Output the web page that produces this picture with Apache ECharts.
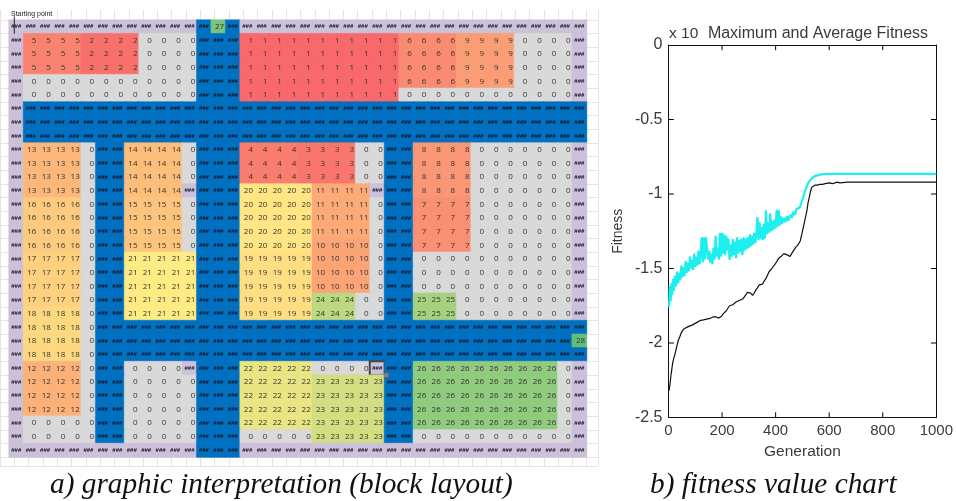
<!DOCTYPE html>
<html><head><meta charset="utf-8">
<style>html,body{margin:0;padding:0;background:#fff}#c{width:956px;height:501px}</style>
<script src="https://cdn.jsdelivr.net/npm/echarts@6/dist/echarts.min.js"></script>
</head><body><div id="c"></div>
<script>
// block layout: W = wall (purple), B = aisle (blue), numbers = block ids. Runs of [value,count].
const W = -1, B = -2;
const r00 = [[W,13],[B,1],[27,1],[B,1],[W,24]];
const r01 = [[W,1],[5,4],[2,4],[0,4],[B,3],[1,11],[6,4],[9,4],[0,4],[W,1]];
const r04 = [[W,1],[0,12],[B,3],[1,11],[6,4],[9,4],[0,4],[W,1]];
const r05 = [[W,1],[0,12],[B,3],[1,11],[0,12],[W,1]];
const r06 = [[W,1],[B,39]];
const r09 = [[W,1],[13,4],[0,1],[B,2],[14,4],[0,1],[B,3],[4,4],[3,4],[0,2],[B,2],[8,4],[0,7],[W,1]];
const r12 = [[W,1],[13,4],[0,1],[B,2],[14,4],[W,1],[B,3],[20,5],[11,4],[W,1],[B,2],[8,4],[0,7],[W,1]];
const r13 = [[W,1],[16,4],[0,1],[B,2],[15,4],[0,1],[B,3],[20,5],[11,4],[0,1],[B,2],[7,4],[0,7],[W,1]];
const r16 = [[W,1],[16,4],[0,1],[B,2],[15,4],[0,1],[B,3],[20,5],[10,4],[0,1],[B,2],[7,4],[0,7],[W,1]];
const r17 = [[W,1],[17,4],[0,1],[B,2],[21,5],[B,3],[19,5],[10,4],[0,1],[B,2],[0,11],[W,1]];
const r20 = [[W,1],[17,4],[0,1],[B,2],[21,5],[B,3],[19,5],[24,3],[0,2],[B,2],[25,3],[0,8],[W,1]];
const r21 = [[W,1],[18,4],[0,1],[B,2],[21,5],[B,3],[19,5],[24,3],[0,2],[B,2],[25,3],[0,8],[W,1]];
const r22 = [[W,1],[18,4],[0,1],[B,34]];
const r23 = [[W,1],[18,4],[0,1],[B,33],[28,1]];
const r25 = [[W,1],[12,4],[0,1],[B,2],[0,4],[W,1],[B,3],[22,5],[0,4],[W,1],[B,2],[26,10],[0,1],[W,1]];
const r26 = [[W,1],[12,4],[0,1],[B,2],[0,5],[B,3],[22,5],[23,5],[B,2],[26,10],[0,1],[W,1]];
const r29 = [[W,1],[0,5],[B,2],[0,5],[B,3],[22,5],[23,5],[B,2],[26,10],[0,1],[W,1]];
const r30 = [[W,1],[0,5],[B,2],[0,5],[B,3],[0,5],[23,5],[B,2],[0,11],[W,1]];
const r31 = [[W,13],[B,3],[W,24]];
const layoutRows = [r00,r01,r01,r01,r04,r05,r06,r06,r06,r09,r09,r09,r12,r13,r13,r13,r16,r17,r17,r17,r20,r21,r22,r23,r22,r25,r26,r26,r26,r29,r30,r31];

// Fitness chart values
const xTickValues = [200,400,600,800];
const yTickValues = [-0.5,-1,-1.5,-2];
const bestGen = [2,6,9,12,16,20,25,30,37,42,48,55,62,68,75,80,88,95,103,110,117,124,130,136,142,148,155,160,166,172,178,182,187,192,198,204,209,215,222,228,233,240,246,252,258,264,270,277,283,289,295,301,307,314,320,326,332,339,345,351,357,363,369,376,384,392,400,412,420,431,438,445,453,460,467,474,482,492,499,505,511,517,521,526,530,535,541,548,556,565,575,585,600,612,622,630,640,647,670,800,1000];
const bestFit = [-2.32,-2.27,-2.22,-2.18,-2.13,-2.1,-2.07,-2.03,-1.98,-1.96,-1.93,-1.91,-1.9,-1.895,-1.89,-1.885,-1.88,-1.87,-1.865,-1.86,-1.85,-1.855,-1.845,-1.85,-1.84,-1.84,-1.835,-1.83,-1.825,-1.82,-1.825,-1.815,-1.833,-1.825,-1.82,-1.805,-1.8,-1.785,-1.775,-1.75,-1.755,-1.743,-1.735,-1.725,-1.73,-1.715,-1.72,-1.705,-1.69,-1.675,-1.66,-1.67,-1.665,-1.68,-1.665,-1.645,-1.63,-1.61,-1.6,-1.605,-1.585,-1.57,-1.565,-1.52,-1.505,-1.485,-1.465,-1.43,-1.42,-1.40,-1.395,-1.41,-1.42,-1.40,-1.38,-1.36,-1.345,-1.315,-1.26,-1.21,-1.16,-1.11,-1.06,-1.02,-0.985,-0.955,-0.945,-0.94,-0.94,-0.935,-0.935,-0.93,-0.925,-0.93,-0.925,-0.92,-0.925,-0.92,-0.92,-0.92,-0.92];
const avgGen = [2,5,8,11,14,17,20,24,28,32,36,40,44,48,52,56,60,64,68,72,76,80,84,88,92,96,100,104,108,112,116,120,124,128,132,136,140,144,148,152,156,160,164,168,172,176,180,184,188,192,196,200,204,208,212,216,220,224,228,232,236,240,244,248,252,256,260,264,268,272,276,280,284,288,292,296,300,304,308,312,316,320,324,328,332,336,340,344,348,352,356,360,364,368,372,376,380,384,388,392,396,400,404,408,412,416,420,424,430,436,442,448,454,460,466,472,478,484,490,496,502,508,514,520,528,536,546,556,570,590,700,850,1000];
const avgFit = [-1.76,-1.62,-1.72,-1.6,-1.68,-1.57,-1.65,-1.55,-1.62,-1.52,-1.6,-1.53,-1.58,-1.48,-1.56,-1.49,-1.55,-1.45,-1.53,-1.46,-1.52,-1.42,-1.5,-1.44,-1.51,-1.4,-1.49,-1.42,-1.48,-1.38,-1.47,-1.4,-1.29,-1.46,-1.29,-1.44,-1.29,-1.29,-1.44,-1.38,-1.46,-1.4,-1.47,-1.36,-1.44,-1.28,-1.42,-1.36,-1.44,-1.26,-1.42,-1.26,-1.4,-1.27,-1.41,-1.28,-1.38,-1.3,-1.44,-1.34,-1.42,-1.3,-1.41,-1.32,-1.43,-1.29,-1.4,-1.31,-1.39,-1.3,-1.41,-1.29,-1.38,-1.3,-1.37,-1.29,-1.36,-1.27,-1.35,-1.28,-1.34,-1.26,-1.33,-1.27,-1.155,-1.31,-1.19,-1.3,-1.22,-1.31,-1.2,-1.3,-1.11,-1.27,-1.19,-1.26,-1.13,-1.25,-1.18,-1.24,-1.17,-1.23,-1.105,-1.22,-1.11,-1.21,-1.15,-1.2,-1.16,-1.19,-1.15,-1.18,-1.14,-1.16,-1.12,-1.14,-1.1,-1.11,-1.09,-1.06,-1.03,-0.99,-0.96,-0.93,-0.91,-0.895,-0.88,-0.875,-0.868,-0.865,-0.865,-0.865,-0.865];

const PURPLE='#CCC0DA', BLUE='#0070C0', GREY='#D9D9D9';
const stops=[[1,[248,105,107]],[21,[255,235,132]],[28,[99,190,123]]];
function scaleColor(v){
  for(let i=0;i<stops.length-1;i++){
    const [a,ca]=stops[i],[b,cb]=stops[i+1];
    if(v<=b){const t=(v-a)/(b-a);return 'rgb('+ca.map((c,k)=>Math.round(c+(cb[k]-c)*t)).join(',')+')';}
  }
}
function cellColor(v){return v===W?PURPLE:v===B?BLUE:v===0?GREY:scaleColor(v);}

const cells=[];
layoutRows.forEach((runs,r)=>{
  let c=0;
  runs.forEach(([v,n])=>{
    for(let i=0;i<n;i++,c++){
      const col=cellColor(v), hash=v<0;
      cells.push({
        value:[c,r,v],
        itemStyle:{color:col,borderColor:col,borderWidth:0.5},
        label:hash?{formatter:'###',position:'inside',fontSize:6,fontWeight:'bold',color:'#10101c',fontFamily:'Liberation Sans'}
                  :{formatter:String(v),position:'insideRight',distance:2,fontSize:8,color:'#333',fontFamily:'Open Sans'}
      });
    }
  });
});
// selected cell outline (row 25, col 25)
const selected=cells.find(d=>d.value[0]===25&&d.value[1]===25);
selected.itemStyle={color:PURPLE,borderColor:'#444',borderWidth:2};

const colIdx=Array.from({length:40},(_,i)=>i), rowIdx=Array.from({length:32},(_,i)=>i);
const CW=14.44, RH=13.66, L=9, T=20;
const serif='Liberation Serif', sans='Liberation Sans', tc='#3a3a3a';
const boxLine=()=>({show:true,onZero:false,lineStyle:{color:'#111',width:1}});

// inward tick marks on all four sides of the plot box, each a short line in axis units
const TX=20, TY=0.035;
const tickSegs=[];
xTickValues.forEach(t=>{tickSegs.push([[t,-2.5],[t,-2.5+TY]]);tickSegs.push([[t,0],[t,-TY]]);});
yTickValues.forEach(t=>{tickSegs.push([[0,t],[TX,t]]);tickSegs.push([[1000,t],[1000-TX,t]]);});
const tickSeries=tickSegs.map(seg=>({type:'line',xAxisIndex:2,yAxisIndex:2,data:seg,showSymbol:false,silent:true,lineStyle:{color:'#000',width:1},z:6}));

const chart=echarts.init(document.getElementById('c'),null,{renderer:'canvas'});
chart.setOption({
  animation:false,
  backgroundColor:'#fff',
  title:{text:'Maximum and Average Fitness',left:813,top:21,textAlign:'center',textStyle:{fontFamily:sans,fontSize:16,fontWeight:'normal',color:tc}},
  grid:[
    {left:L-CW,top:T-RH,width:CW*41.8,height:RH*33.7,show:false},
    {left:L,top:T,width:CW*40,height:RH*32,show:false},
    {left:668.5,top:45,width:270.5,height:372.5,show:false}
  ],
  xAxis:[
    {gridIndex:0,type:'value',min:-1,max:40.8,interval:1,axisLine:{show:false},axisTick:{show:false},axisLabel:{show:false},splitLine:{show:true,lineStyle:{color:'#E4E4E4',width:1}}},
    {gridIndex:1,type:'category',data:colIdx,show:false},
    {gridIndex:2,type:'value',min:0,max:1000,interval:200,position:'bottom',name:'Generation',nameLocation:'middle',nameGap:23,nameTextStyle:{fontFamily:sans,fontSize:15.5,color:tc},axisLine:boxLine(),axisTick:{show:false},axisLabel:{fontFamily:sans,fontSize:15,color:tc,margin:6,formatter:v=>String(v)},splitLine:{show:false}},
    {gridIndex:2,type:'value',min:0,max:1000,interval:200,position:'top',axisLine:boxLine(),axisTick:{show:false},axisLabel:{show:false},splitLine:{show:false}}
  ],
  yAxis:[
    {gridIndex:0,type:'value',inverse:true,min:-1,max:32.7,interval:1,axisLine:{show:false},axisTick:{show:false},axisLabel:{show:false},splitLine:{show:true,lineStyle:{color:'#E4E4E4',width:1}}},
    {gridIndex:1,type:'category',inverse:true,data:rowIdx,show:false},
    {gridIndex:2,type:'value',min:-2.5,max:0,interval:0.5,position:'left',name:'Fitness',nameLocation:'middle',nameRotate:90,nameGap:43,nameTextStyle:{fontFamily:sans,fontSize:14,color:tc},axisLine:boxLine(),axisTick:{show:false},axisLabel:{fontFamily:sans,fontSize:16,color:tc,margin:6,formatter:v=>String(v)},splitLine:{show:false}},
    {gridIndex:2,type:'value',min:-2.5,max:0,interval:0.5,position:'right',axisLine:boxLine(),axisTick:{show:false},axisLabel:{show:false},splitLine:{show:false}}
  ],
  series:[
    {type:'heatmap',xAxisIndex:1,yAxisIndex:1,data:cells,label:{show:true},z:2,progressive:0,emphasis:{disabled:true}},
    {type:'line',xAxisIndex:0,yAxisIndex:0,data:[[0,-0.25],[0,1]],showSymbol:false,silent:true,lineStyle:{color:'#222',width:1},z:3},
    {type:'scatter',xAxisIndex:0,yAxisIndex:0,data:[[26,26]],symbol:'rect',symbolSize:4,itemStyle:{color:'#E8762C'},silent:true,z:6},
    {type:'line',xAxisIndex:2,yAxisIndex:2,data:avgGen.map((g,i)=>[g,avgFit[i]]),showSymbol:false,lineStyle:{color:'#1EEEEE',width:2.2},z:3},
    {type:'line',xAxisIndex:2,yAxisIndex:2,data:bestGen.map((g,i)=>[g,bestFit[i]]),showSymbol:false,lineStyle:{color:'#111',width:1.2},z:4}
  ].concat(tickSeries),
  graphic:[
    {type:'rect',shape:{x:0,y:0,width:610,height:10},style:{fill:'#fff'},z:1,silent:true},
    {type:'text',left:11,top:11,style:{text:'Starting point',fontFamily:sans,fontSize:7,fill:'#222'},z:10},
    {type:'text',left:669,top:26,style:{text:'x 10',fontFamily:sans,fontSize:15.5,fill:tc},z:10},
    {type:'text',left:50,top:471,style:{text:'a) graphic interpretation (block layout)',fontFamily:serif,fontStyle:'italic',fontSize:29.3,fill:'#111'},z:10},
    {type:'text',left:650,top:471,style:{text:'b) fitness value chart',fontFamily:serif,fontStyle:'italic',fontSize:29.3,fill:'#111'},z:10}
  ]
});
</script></body></html>
